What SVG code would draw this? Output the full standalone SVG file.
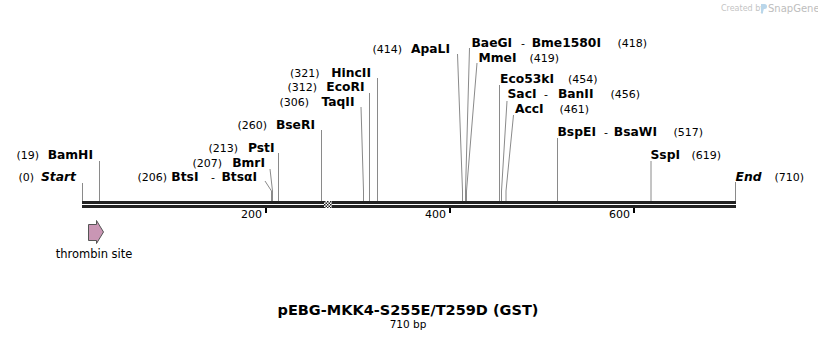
<svg xmlns="http://www.w3.org/2000/svg" width="818" height="340" viewBox="0 0 818 340">
<defs>
<style>
text{font-family:"DejaVu Sans","Verdana",sans-serif;fill:#000}
.n{font-size:11px}
.b{font-size:12.3px;font-weight:bold}
.bi{font-size:12.3px;font-weight:bold;font-style:italic}
.d{font-size:11px}
.cut{fill:none;stroke:#8a8a8a;stroke-width:1}
.tick{stroke:#000;stroke-width:2}
.tl{font-size:11px}
</style>
<pattern id="chk" x="0" y="0" width="3" height="3" patternUnits="userSpaceOnUse">
<rect width="3" height="3" fill="#fff"/>
<rect width="1.5" height="1.5" fill="#222"/>
<rect x="1.5" y="1.5" width="1.5" height="1.5" fill="#222"/>
</pattern>
</defs>
<rect width="818" height="340" fill="#fff"/>

<g id="watermark">
<text x="721" y="11" style="font-size:8px;fill:#c4c4c4">Created by</text>
<path d="M761 4h3.5a2.5 2.5 0 0 1 0 5h-1.5v4.5h-2z" fill="#b9d6ea"/>
<text x="768" y="12" style="font-size:10px;fill:#bdbdbd">SnapGene</text>
</g>

<g id="connectors">
<polyline class="cut" points="82.5,183 82.5,201"/>
<polyline class="cut" points="99.5,161 99.5,201"/>
<polyline class="cut" points="265,181 271.5,191 271.5,201"/>
<polyline class="cut" points="270,169 272.5,191 272.5,201"/>
<polyline class="cut" points="278.5,153 278.5,201"/>
<polyline class="cut" points="321.5,130 321.5,201"/>
<polyline class="cut" points="361,107 363.5,191 363.5,201"/>
<polyline class="cut" points="369.5,93 369.5,201"/>
<polyline class="cut" points="377.5,78 377.5,201"/>
<polyline class="cut" points="457.5,54 462.5,191 462.5,201"/>
<polyline class="cut" points="469.5,48 465.5,191 465.5,201"/>
<polyline class="cut" points="477,63 466.5,191 466.5,201"/>
<polyline class="cut" points="499.5,85 499.5,201"/>
<polyline class="cut" points="507,101 501.5,191 501.5,201"/>
<polyline class="cut" points="513.5,115 506,191 506,201"/>
<polyline class="cut" points="557.5,138 557.5,201"/>
<polyline class="cut" points="651,161 651,201"/>
<polyline class="cut" points="735.5,182 735.5,201"/>
</g>

<g id="backbone">
<rect x="82" y="201" width="654" height="3" fill="#222"/>
<rect x="82" y="205" width="654" height="3" fill="#222"/>
<rect x="324" y="201" width="8" height="7" fill="url(#chk)"/>
<line class="tick" x1="266" y1="208" x2="266" y2="213"/>
<line class="tick" x1="450" y1="208" x2="450" y2="213"/>
<line class="tick" x1="634" y1="208" x2="634" y2="213"/>
<text class="tl" x="262" y="218" text-anchor="end">200</text>
<text class="tl" x="446" y="218" text-anchor="end">400</text>
<text class="tl" x="630" y="218" text-anchor="end">600</text>
</g>

<g id="start"><text class="n" x="18.5" y="180.5">(0)</text><text class="bi" x="76" y="180.5" text-anchor="end">Start</text></g>
<g id="BamHI"><text class="n" x="16.5" y="159">(19)</text><text class="b" x="93" y="159" text-anchor="end">BamHI</text></g>
<g id="BtsI"><text class="n" x="137.5" y="180.5">(206)</text><text class="b" x="198.5" y="180.5" text-anchor="end">BtsI</text><text class="d" x="211" y="180.5">-</text><text class="b" x="257" y="180.5" text-anchor="end">BtsαI</text></g>
<g id="BmrI"><text class="n" x="192.5" y="167">(207)</text><text class="b" x="265" y="167" text-anchor="end">BmrI</text></g>
<g id="PstI"><text class="n" x="208.5" y="151.5">(213)</text><text class="b" x="274.5" y="151.5" text-anchor="end">PstI</text></g>
<g id="BseRI"><text class="n" x="237.5" y="128.5">(260)</text><text class="b" x="315" y="128.5" text-anchor="end">BseRI</text></g>
<g id="TaqII"><text class="n" x="279.5" y="105.5">(306)</text><text class="b" x="354.5" y="105.5" text-anchor="end">TaqII</text></g>
<g id="EcoRI"><text class="n" x="287.5" y="91">(312)</text><text class="b" x="364.5" y="91" text-anchor="end">EcoRI</text></g>
<g id="HincII"><text class="n" x="290" y="76.5">(321)</text><text class="b" x="371" y="76.5" text-anchor="end">HincII</text></g>
<g id="ApaLI"><text class="n" x="372.5" y="52.5">(414)</text><text class="b" x="450" y="52.5" text-anchor="end">ApaLI</text></g>
<g id="BaeGI"><text class="b" x="471.5" y="46.5">BaeGI</text><text class="d" x="521" y="46.5">-</text><text class="b" x="601" y="46.5" text-anchor="end">Bme1580I</text><text class="n" x="617.5" y="46.5">(418)</text></g>
<g id="MmeI"><text class="b" x="478.5" y="61.5">MmeI</text><text class="n" x="529.5" y="61.5">(419)</text></g>
<g id="Eco53kI"><text class="b" x="500" y="83">Eco53kI</text><text class="n" x="568" y="83">(454)</text></g>
<g id="SacI"><text class="b" x="507.5" y="98">SacI</text><text class="d" x="544" y="98">-</text><text class="b" x="593.5" y="98" text-anchor="end">BanII</text><text class="n" x="610.5" y="98">(456)</text></g>
<g id="AccI"><text class="b" x="515" y="112.5">AccI</text><text class="n" x="559.5" y="112.5">(461)</text></g>
<g id="BspEI"><text class="b" x="557.5" y="136">BspEI</text><text class="d" x="604" y="136">-</text><text class="b" x="657" y="136" text-anchor="end">BsaWI</text><text class="n" x="673.5" y="136">(517)</text></g>
<g id="SspI"><text class="b" x="650.5" y="159">SspI</text><text class="n" x="691.5" y="159">(619)</text></g>
<g id="end"><text class="bi" x="735.5" y="180.5">End</text><text class="n" x="774.5" y="180.5">(710)</text></g>

<g id="thrombin">
<polygon points="88.5,224.5 96.5,224.5 96.5,220.5 103.5,232 96.5,243.5 96.5,240.5 88.5,240.5" fill="#c996b4" stroke="#555" stroke-width="1"/>
<text x="94" y="257.5" text-anchor="middle" style="font-size:11.5px">thrombin site</text>
</g>

<g id="title">
<text x="408" y="315" text-anchor="middle" style="font-size:14.5px;font-weight:bold">pEBG-MKK4-S255E/T259D (GST)</text>
<text x="408" y="327.5" text-anchor="middle" style="font-size:10.5px">710 bp</text>
</g>
</svg>
